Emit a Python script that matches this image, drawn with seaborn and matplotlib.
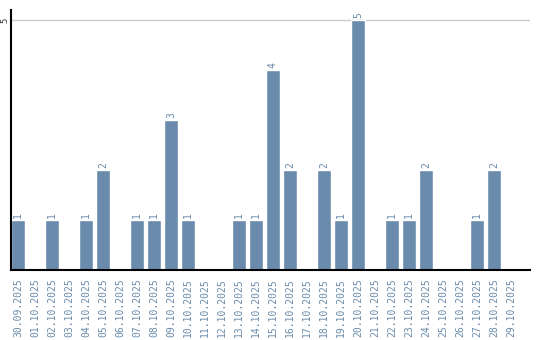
import matplotlib
matplotlib.use("Agg")
import matplotlib.pyplot as plt
import seaborn as sns
import pandas as pd

dates = ["30.09.2025", "01.10.2025", "02.10.2025", "03.10.2025", "04.10.2025",
         "05.10.2025", "06.10.2025", "07.10.2025", "08.10.2025", "09.10.2025",
         "10.10.2025", "11.10.2025", "12.10.2025", "13.10.2025", "14.10.2025",
         "15.10.2025", "16.10.2025", "17.10.2025", "18.10.2025", "19.10.2025",
         "20.10.2025", "21.10.2025", "22.10.2025", "23.10.2025", "24.10.2025",
         "25.10.2025", "26.10.2025", "27.10.2025", "28.10.2025", "29.10.2025"]
counts = [1, 0, 1, 0, 1, 2, 0, 1, 1, 3,
          1, 0, 0, 1, 1, 4, 2, 0, 2, 1,
          5, 0, 1, 1, 2, 0, 0, 1, 2, 0]
yticks = [5]

df = pd.DataFrame({"date": dates, "count": counts})

sns.set_style("white")
plt.rcParams['font.family'] = ['DejaVu Sans Mono', 'DejaVu Sans']

bar_color = "#6a8bab"
text_color = "#6a8bab"

fig = plt.figure(figsize=(5.4, 3.4), dpi=100)
ax = fig.add_axes([11/540, 70/340, 519/540, 260/340])

sns.barplot(data=df, x="date", y="count", color=bar_color, width=0.82,
            saturation=1, ax=ax, zorder=2)

for i, v in enumerate(counts):
    if v > 0:
        ax.text(i, v + 0.04, str(v), rotation=90, ha="center", va="bottom",
                fontsize=7, color=text_color)

ax.set_xlim(-0.41, 30.12)
ax.set_ylim(0, 5.2)
ax.set_yticks(yticks)
ax.set_yticklabels([str(t) for t in yticks], rotation=90, va="center",
                   fontsize=6.5, color="#333333")
ax.tick_params(axis="y", length=0, pad=1)
ax.tick_params(axis="x", length=0, pad=6)
ax.set_xticks(range(len(dates)))
ax.set_xticklabels(dates, rotation=90, fontsize=7, color=text_color, va="top")
for t in yticks:
    ax.axhline(t, color="#cccccc", lw=1, zorder=1)
ax.set_xlabel("")
ax.set_ylabel("")
for s in ["top", "right"]:
    ax.spines[s].set_visible(False)
ax.spines["left"].set_color("black")
ax.spines["left"].set_linewidth(1.5)
ax.spines["bottom"].set_color("black")
ax.spines["bottom"].set_linewidth(1.5)
ax.grid(False)

fig.savefig("out.png", dpi=100)
